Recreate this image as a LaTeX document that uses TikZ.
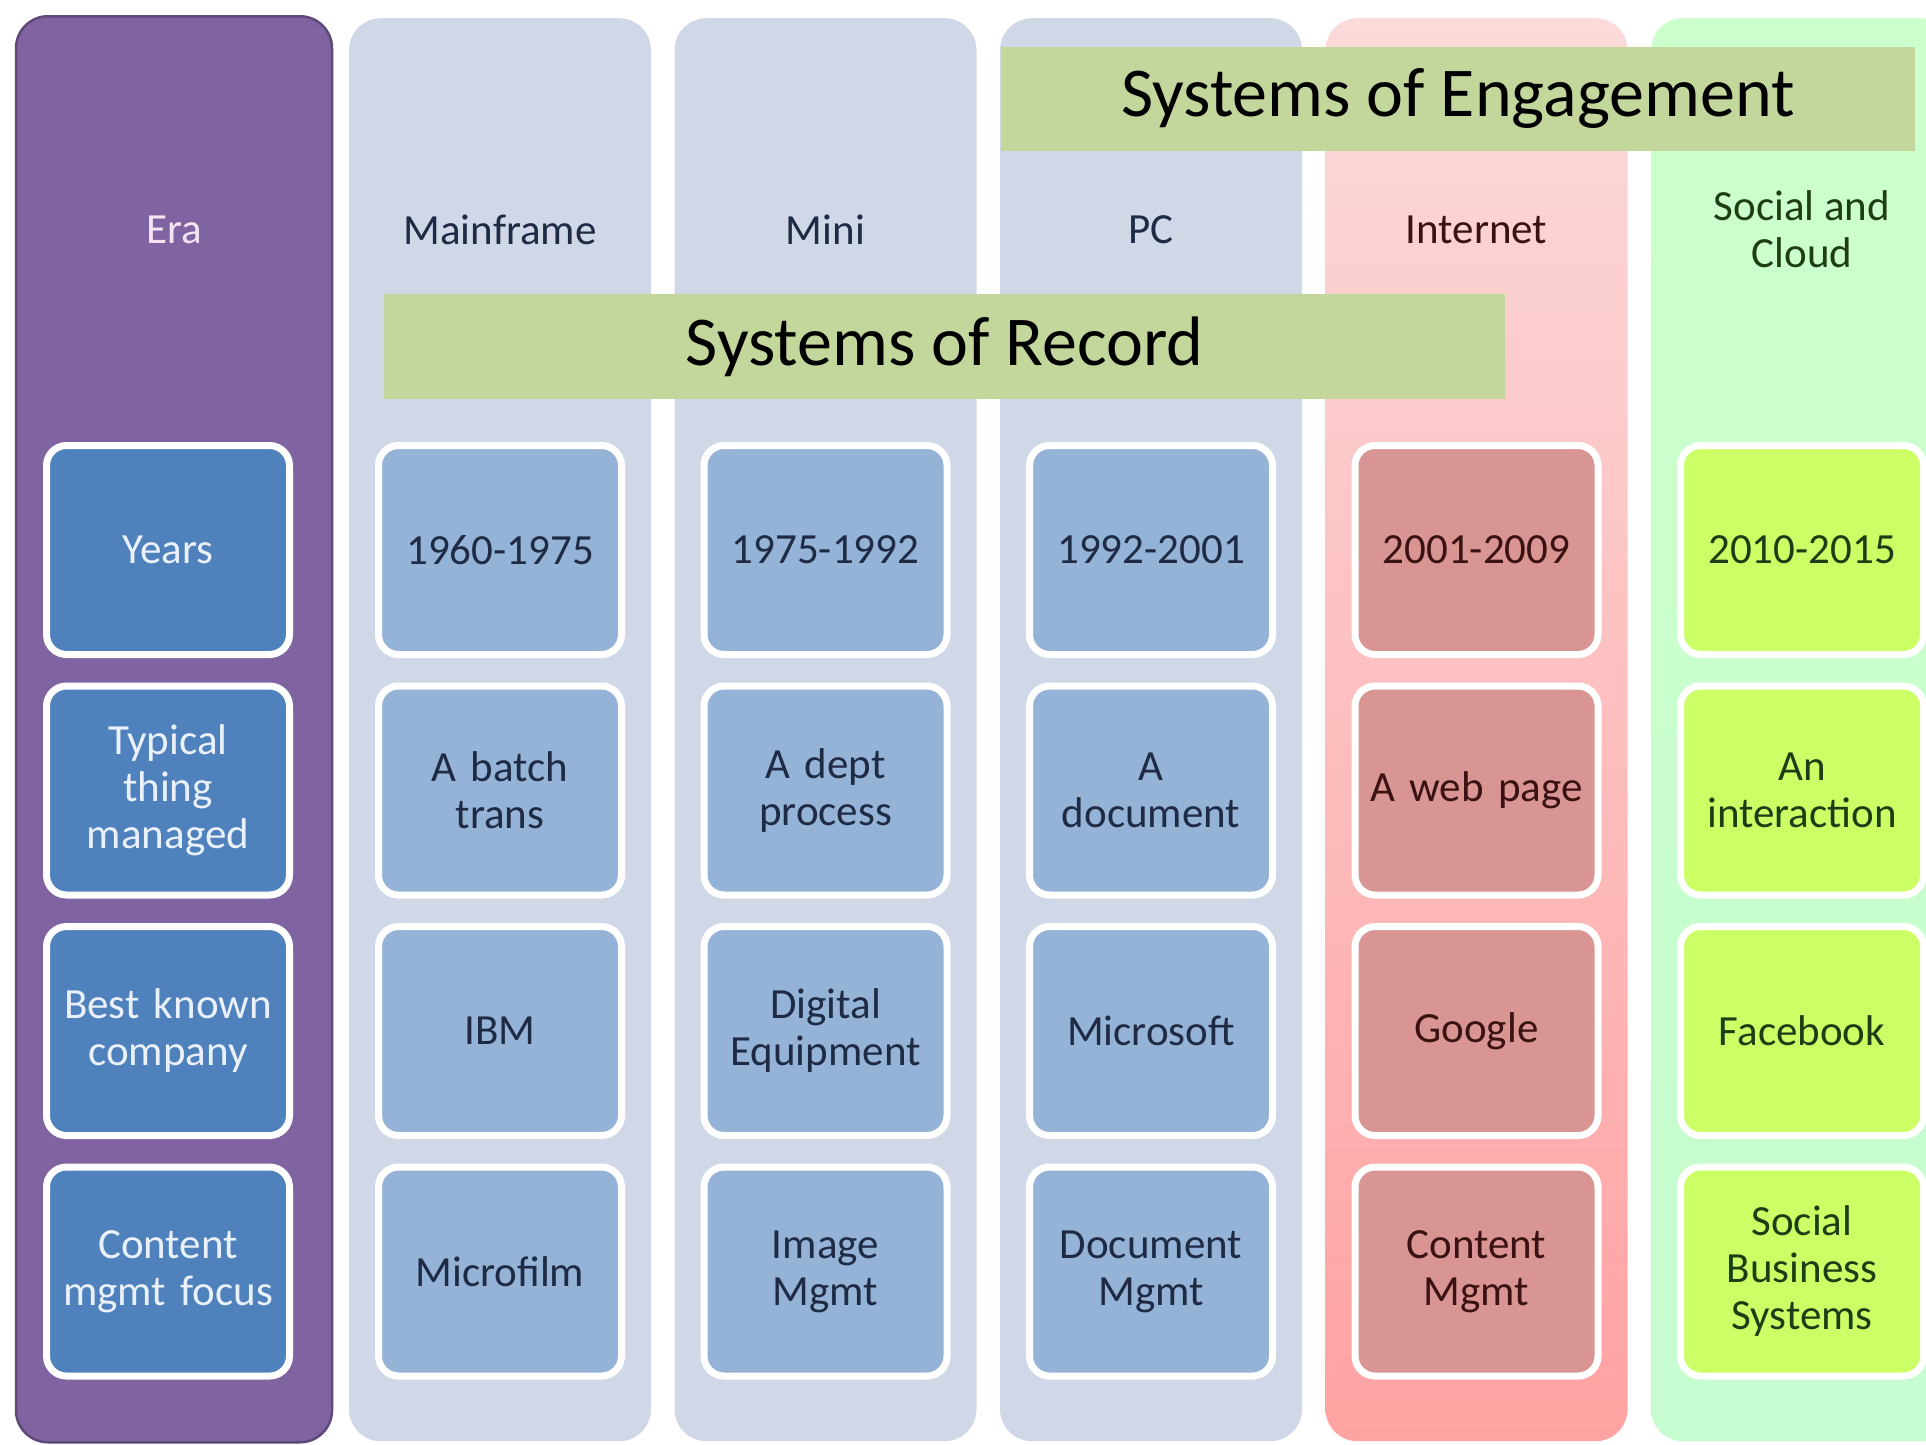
\documentclass[tikz,border=0pt]{standalone}
\usepackage{fontspec}
\setmainfont{Carlito}
\definecolor{eraFill}{HTML}{8064A2}
\definecolor{eraLine}{HTML}{5F497A}
\definecolor{greyCol}{HTML}{D0D8E8}
\definecolor{netTop}{HTML}{FBDADA}
\definecolor{netBot}{HTML}{FFA2A2}
\definecolor{socTop}{HTML}{CCFFCC}
\definecolor{socBot}{HTML}{C6FCCF}
\definecolor{bandFill}{HTML}{C3D69B}
\definecolor{eraBox}{HTML}{4F81BD}
\definecolor{blueBox}{HTML}{95B3D7}
\definecolor{redBox}{HTML}{D99594}
\definecolor{limeBox}{HTML}{CCFF66}
\definecolor{navyTxt}{HTML}{1F2A44}
\definecolor{redTxt}{HTML}{3A1212}
\definecolor{greenTxt}{HTML}{1E3D14}
\definecolor{eraTxt}{HTML}{F3E3F3}
\definecolor{eraBoxTxt}{HTML}{EAF1FB}
\begin{document}
\begin{tikzpicture}[x=1pt,y=-1pt,
  column/.style={rectangle, rounded corners=32pt, minimum width=302pt, minimum height=1423pt, inner sep=0pt, anchor=north},
  header/.style={font=\fontsize{43}{47}\selectfont, align=center, inner sep=0pt},
  band/.style={rectangle, fill=bandFill, inner sep=0pt, text=black, font=\fontsize{70}{80}\selectfont},
  cell/.style={rectangle, rounded corners=20pt, draw=white, line width=7pt, minimum width=243pt, minimum height=209pt, text width=236pt, align=center, inner sep=0pt, font=\fontsize{43}{47}\selectfont},
  eracell/.style={cell, fill=eraBox, text=eraBoxTxt},
  bluecell/.style={cell, fill=blueBox, text=navyTxt},
  redcell/.style={cell, fill=redBox, text=redTxt},
  limecell/.style={cell, fill=limeBox, text=greenTxt}]
\useasboundingbox (0,0) rectangle (1926,1444);
\fill[white] (0,0) rectangle (1926,1444);
% columns
\node[column, fill=eraFill, draw=eraLine, line width=2.5pt, minimum width=316pt, minimum height=1426pt] (eraCol) at (174,15) {};
\node[column, fill=greyCol] (mainCol) at (500,18) {};
\node[column, fill=greyCol] (miniCol) at (825.5,18) {};
\node[column, fill=greyCol] (pcCol) at (1151,18) {};
\node[column, top color=netTop, bottom color=netBot] (netCol) at (1476.5,18) {};
\node[column, top color=socTop, bottom color=socBot] (socCol) at (1802,18) {};
% bands
\node[band, minimum width=1121pt, minimum height=105pt] (record) at (944.5,346.5) {Systems of Record};
\node[band, minimum width=914pt, minimum height=104pt] (engage) at (1458,99) {Systems of Engagement};
% headers
\node[header, text=eraTxt] (hEra) at (174,230) {Era};
\node[header, text=navyTxt] (hMain) at (500,230) {Mainframe};
\node[header, text=navyTxt] (hMini) at (825.5,230) {Mini};
\node[header, text=navyTxt] (hPC) at (1151,230) {PC};
\node[header, text=redTxt] (hNet) at (1476.5,230) {Internet};
\node[header, text=greenTxt] (hSoc) at (1802,229) {Social and\\Cloud};
% Era cells
\node[eracell] (e1) at (168,550) {Years};
\node[eracell] (e2) at (168,790.5) {Typical\\thing\\managed};
\node[eracell] (e3) at (168,1031) {Best known\\company};
\node[eracell] (e4) at (168,1271.5) {Content\\mgmt focus};
% Mainframe
\node[bluecell] (m1) at (500,550) {1960-1975};
\node[bluecell] (m2) at (500,790.5) {A batch\\trans};
\node[bluecell] (m3) at (500,1031) {IBM};
\node[bluecell] (m4) at (500,1271.5) {Microfilm};
% Mini
\node[bluecell] (n1) at (825.5,550) {1975-1992};
\node[bluecell] (n2) at (825.5,790.5) {A dept\\process};
\node[bluecell] (n3) at (825.5,1031) {Digital\\Equipment};
\node[bluecell] (n4) at (825.5,1271.5) {Image\\Mgmt};
% PC
\node[bluecell] (p1) at (1151,550) {1992-2001};
\node[bluecell] (p2) at (1151,790.5) {A\\document};
\node[bluecell] (p3) at (1151,1031) {Microsoft};
\node[bluecell] (p4) at (1151,1271.5) {Document\\Mgmt};
% Internet
\node[redcell] (i1) at (1476.5,550) {2001-2009};
\node[redcell] (i2) at (1476.5,790.5) {A web page};
\node[redcell] (i3) at (1476.5,1031) {Google};
\node[redcell] (i4) at (1476.5,1271.5) {Content\\Mgmt};
% Social and Cloud
\node[limecell] (s1) at (1802,550) {2010-2015};
\node[limecell] (s2) at (1802,790.5) {An\\interaction};
\node[limecell] (s3) at (1802,1031) {Facebook};
\node[limecell] (s4) at (1802,1271.5) {Social\\Business\\Systems};
\end{tikzpicture}
\end{document}
